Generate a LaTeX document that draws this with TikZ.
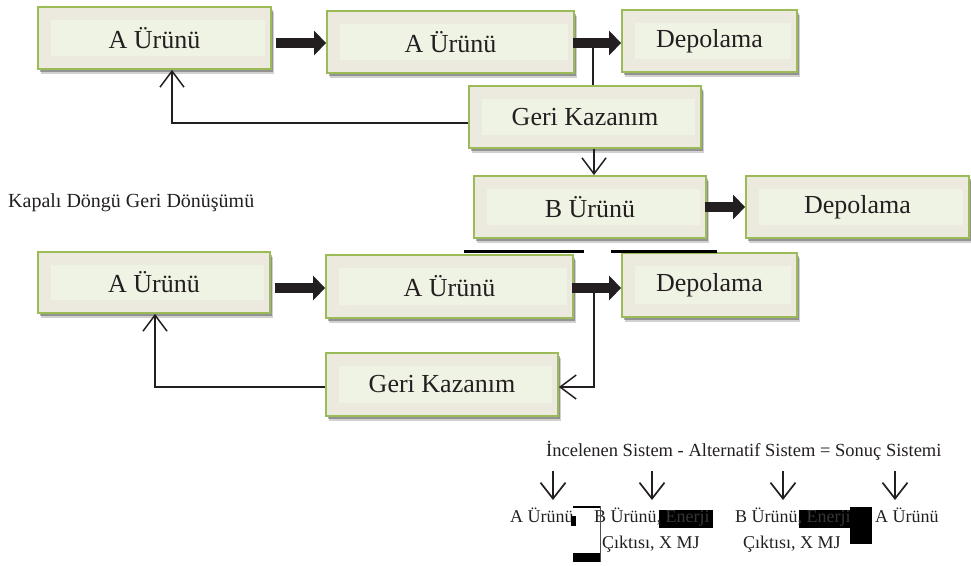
\documentclass[tikz,border=0pt]{standalone}
\usepackage{fontspec}
\setmainfont{Liberation Serif}
\usetikzlibrary{arrows.meta,shadows,calc}
\definecolor{boxborder}{RGB}{155,187,89}
\definecolor{boxouter}{RGB}{236,234,223}
\definecolor{boxinner}{RGB}{239,243,228}
\definecolor{ink}{RGB}{35,31,32}
\definecolor{dimtext}{RGB}{58,54,54}
\tikzset{
  box/.style={draw=boxborder, line width=1.8pt, fill=boxouter, inner sep=0pt, text=ink,
    font=\fontsize{26}{30}\selectfont,
    drop shadow={shadow xshift=3pt, shadow yshift=-4.5pt, opacity=0.18, fill=black},
    drop shadow={shadow xshift=1.5pt, shadow yshift=-2.5pt, opacity=0.3, fill=black},
    path picture={\fill[boxinner] ($(path picture bounding box.south west)+(13pt,13pt)$) rectangle ($(path picture bounding box.north east)+(-6pt,-13pt)$);}},
  fat/.style={draw=ink, line width=10.5pt, -{Triangle[length=12pt,width=24pt]}},
  thinline/.style={draw=ink, line width=1.4pt},
  thinarr/.style={draw=ink, line width=1.5pt, -{Straight Barb[length=16pt,width=24pt]}},
  downarr/.style={draw=ink, line width=1.7pt, -{Straight Barb[length=16pt,width=25pt]}},
  bar/.style={draw=black, line width=3pt},
  lbl/.style={inner sep=0pt, text=ink, anchor=base west},
  bigtxt/.style={font=\fontsize{20}{24}\selectfont},
  eqtxt/.style={font=\fontsize{18.5}{22}\selectfont},
  smalltxt/.style={font=\fontsize{18}{22}\selectfont},
}
\begin{document}
\begin{tikzpicture}[x=1pt,y=-1pt]
\useasboundingbox (0,0) rectangle (971,565);

% upper system
\node[box, minimum width=233pt, minimum height=62pt] (b1) at (154.5,38) {A Ürünü};
\node[box, minimum width=247pt, minimum height=62pt] (b2) at (450.5,42) {A Ürünü};
\node[box, minimum width=175pt, minimum height=62pt] (b3) at (709.5,41) {Depolama};
\node[box, minimum width=232pt, minimum height=62pt] (b4) at (585,117) {Geri Kazanım};
\node[box, minimum width=232pt, minimum height=62pt] (b5) at (590,207) {B Ürünü};
\node[box, minimum width=223pt, minimum height=62pt] (b6) at (857.5,207) {Depolama};

% lower system
\node[box, minimum width=232pt, minimum height=61pt] (b7) at (154,282.5) {A Ürünü};
\node[box, minimum width=247pt, minimum height=63pt] (b8) at (449.5,286.5) {A Ürünü};
\node[box, minimum width=175pt, minimum height=64pt] (b9) at (709.5,285) {Depolama};
\node[box, minimum width=232pt, minimum height=63pt] (b10) at (442,384.5) {Geri Kazanım};

\node[lbl, bigtxt] (kdg) at (8,207) {Kapalı Döngü Geri Dönüşümü};

% fat arrows
\coordinate (y1) at (0,43);
\coordinate (y2) at (0,288);
\draw[fat, shorten <=4pt] (b1.east |- y1) -- (b2.west |- y1);
\draw[fat, shorten <=-2pt] (b2.east |- y1) -- (b3.west |- y1);
\draw[fat, shorten <=-2pt] (b5.east) -- (b6.west |- b5.east);
\draw[fat, shorten <=4pt] (b7.east |- y2) -- (b8.west |- y2);
\draw[fat, shorten <=-2pt] (b8.east |- y2) -- (b9.west |- y2);

% thin connectors, upper
\coordinate (t1) at (593,48);
\draw[thinline] (t1) -- (t1 |- b4.north);
\coordinate (k1) at (172,123);
\draw[thinarr] (b4.west |- k1) -- (k1) -- (k1 |- b1.south);
\coordinate (k2) at (594,148);
\draw[thinarr] (k2 |- b4.south) -- (k2 |- b5.north);

% bars under B Ürünü
\draw[bar] (464,251) -- (584,251);
\draw[bar] (611,251) -- (717,251);

% thin connectors, lower
\coordinate (k3a) at (594,292);
\coordinate (k3) at (594,387);
\draw[thinarr] (k3a) -- (k3) -- (b10.east |- k3);
\coordinate (k4) at (155,387);
\draw[thinarr] (b10.west |- k4) -- (k4) -- (k4 |- b7.south);

% equation
\node[lbl, eqtxt] (eq) at (546,456) {İncelenen Sistem - Alternatif Sistem = Sonuç Sistemi};
\coordinate (d1s) at (553,471); \coordinate (d1e) at (553,500);
\coordinate (d2s) at (652,471); \coordinate (d2e) at (652,500);
\coordinate (d3s) at (783,471); \coordinate (d3e) at (783,500);
\coordinate (d4s) at (895,471); \coordinate (d4e) at (895,500);
\draw[downarr] (d1s) -- (d1e);
\draw[downarr] (d2s) -- (d2e);
\draw[downarr] (d3s) -- (d3e);
\draw[downarr] (d4s) -- (d4e);

% black patches behind text
\fill[black] (659,510) rectangle (713,528);
\fill[black] (799,510) rectangle (850,528);

\node[lbl, smalltxt] (r1) at (510,522) {A Ürünü};
\node[lbl, smalltxt] (r2) at (594,522) {B Ürünü{\color{dimtext}, Enerji}};
\node[lbl, smalltxt] (r2b) at (602,548) {Çıktısı, X MJ};
\node[lbl, smalltxt] (r3) at (735,522) {B Ürünü{\color{dimtext}, Enerji}};
\node[lbl, smalltxt] (r3b) at (743,548) {Çıktısı, X MJ};
\node[lbl, smalltxt] (r4) at (875,522) {A Ürünü};

% black patches over text
\fill[black] (571,516) rectangle (576,526);
\fill[black] (850,507) rectangle (872,544);
% bracket
\draw[black, line width=2pt] (573,507) -- (600,507);
\draw[black!70, line width=0.7pt] (600,506) -- (600,562);
\fill[black] (573,553) rectangle (600,562);
\end{tikzpicture}
\end{document}
